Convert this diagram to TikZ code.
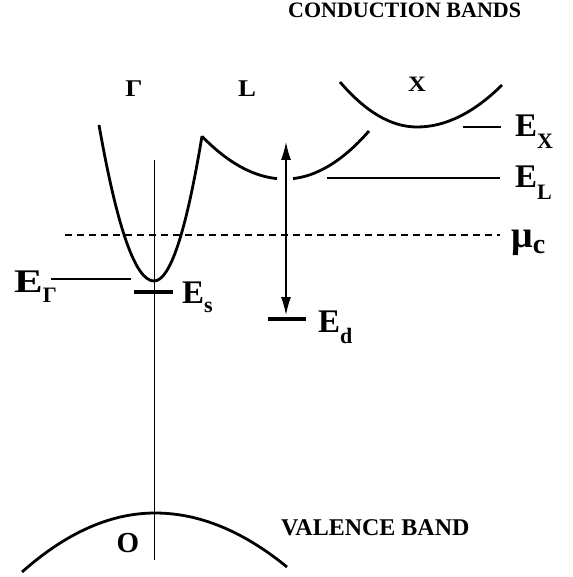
\documentclass[tikz,border=0pt]{standalone}
\usepackage{fontspec}
\setmainfont{Liberation Serif}
\usetikzlibrary{arrows.meta}
\newcommand\lsub[2][-9pt]{\raisebox{#1}{\fontsize{22}{22}\selectfont #2}}
\newcommand\wide[1]{\scalebox{1.12}[1]{#1}}
\begin{document}
\begin{tikzpicture}[x=1pt,y=-1pt,
  band/.style={line width=2.8pt},
  thinline/.style={line width=1.3pt},
  levelbar/.style={line width=4pt},
  lbl/.style={anchor=base west, inner sep=0pt, font=\bfseries\fontsize{33}{33}\selectfont},
  hdr/.style={anchor=base west, inner sep=0pt, font=\bfseries\fontsize{22}{22}\selectfont},
  letter/.style={anchor=base, inner sep=0pt, font=\bfseries\fontsize{24}{24}\selectfont}]
\useasboundingbox (0,0) rectangle (572,577);

% headers
\node[hdr] (cb) at (288,18) {CONDUCTION BANDS};
\node[hdr, font=\bfseries\fontsize{24}{24}\selectfont] (vb) at (281,535) {VALENCE BAND};
\node[letter] (gam) at (134,97) {\wide{Γ}};
\node[letter] (ell) at (247,97) {\wide{L}};
\node[letter, font=\bfseries\fontsize{22}{22}\selectfont] (ex) at (417,92) {\wide{X}};
\node[anchor=base, inner sep=0pt, font=\bfseries\fontsize{29}{29}\selectfont] (o) at (128,552) {O};

% vertical axis
\coordinate (axtop) at (154.5,160);
\coordinate (axbot) at (154.5,560);
\draw[thinline] (axtop) -- (axbot);

% Gamma valley + L valley (left part)
\draw[band] (99,125) .. controls (117.3,229) and (135.7,281) .. (154,281)
  .. controls (170,281) and (186,232.7) .. (202,136)
  -- plot[domain=202:277, samples=30] (\x, {179-0.0062*(\x-285)^2});
% L valley right part
\draw[band] plot[domain=293:369, samples=30] (\x, {179-0.0068*(\x-285)^2});
% X valley
\draw[band] (340,82) .. controls (365.7,112) and (391.3,127) .. (417,127)
  .. controls (445.3,127) and (473.7,113) .. (502,85);
% valence band
\draw[band] (22,572) .. controls (66.3,532.7) and (110.7,513) .. (155,513)
  .. controls (199,513) and (243,531) .. (287,567);

% levels
\coordinate (eg1) at (51,279); \coordinate (eg2) at (131,279);
\draw[thinline] (eg1) -- (eg2);
\coordinate (es1) at (134,292); \coordinate (es2) at (173,292);
\draw[levelbar] (es1) -- (es2);
\coordinate (ed1) at (268,319); \coordinate (ed2) at (306,319);
\draw[levelbar] (ed1) -- (ed2);
\coordinate (ex1) at (463,127); \coordinate (ex2) at (501,127);
\draw[thinline] (ex1) -- (ex2);
\coordinate (el1) at (327,178); \coordinate (el2) at (500,178);
\draw[thinline] (el1) -- (el2);
\coordinate (mu1) at (65,235); \coordinate (mu2) at (500,235);
\draw[thinline, dash pattern=on 7pt off 5pt] (mu1) -- (mu2);

% double arrow
\coordinate (arrtop) at (286,142);
\coordinate (arrbot) at (286,315);
\draw[line width=1.3pt, {Latex[length=18pt,width=10pt]}-{Latex[length=18pt,width=10pt]}] (arrtop) -- (arrbot);

% labels
\node[lbl] (lEg) at (14,292) {\scalebox{1.3}[1]{E}\lsub[-10pt]{Γ}};
\node[lbl] (lEs) at (182,303) {E\lsub{s}};
\node[lbl] (lEd) at (318,332) {E\lsub[-11pt]{d}};
\node[lbl] (lEx) at (515,137) {E\lsub[-12pt]{X}};
\node[lbl] (lEl) at (515,188) {E\lsub[-12pt]{L}};
\node[lbl, font=\bfseries\fontsize{38}{38}\selectfont] (lmu) at (511,247) {μ\raisebox{-6pt}{\fontsize{28}{28}\selectfont c}};
\end{tikzpicture}
\end{document}
